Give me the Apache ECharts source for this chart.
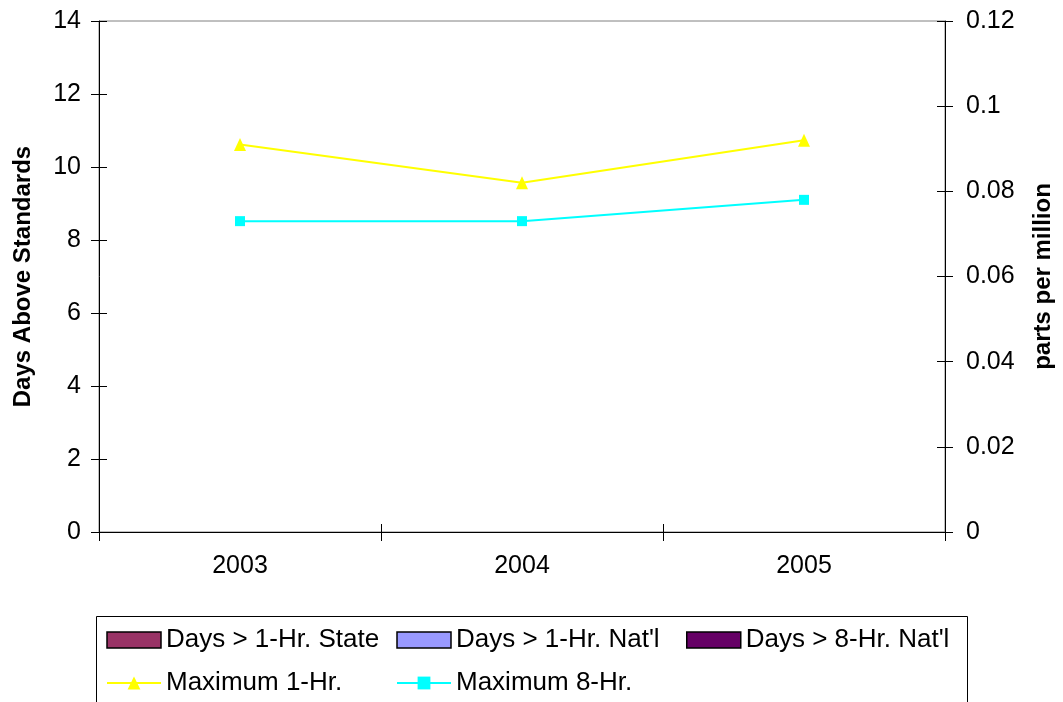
<!DOCTYPE html>
<html>
<head>
<meta charset="utf-8">
<style>
  html, body { margin: 0; padding: 0; background: #fff; }
  #chart { width: 1063px; height: 702px; }
</style>
<script src="https://cdn.jsdelivr.net/npm/echarts@6/dist/echarts.min.js"></script>
</head>
<body>
<div id="chart"></div>
<script>
// Ozone summary: exceedance days (bars) and annual maxima in ppm (lines)
const years = ['2003', '2004', '2005'];

const daysState1Hr = [0, 0, 0];
const daysNatl1Hr = [0, 0, 0];
const daysNatl8Hr = [0, 0, 0];

const max1Hr = [0.091, 0.082, 0.092];
const max8Hr = [0.073, 0.073, 0.078];

const FONT = 'Liberation Sans, Arial, sans-serif';
const tickStyle = { fontFamily: FONT, fontSize: 25, color: '#000' };
const axisLineStyle = { lineStyle: { color: '#000', width: 1 } };

const chart = echarts.init(document.getElementById('chart'), null, { renderer: 'canvas' });

// Second copy of an axis that only draws the inward half of each tick,
// so the ticks cross the axis line
function innerTicks(base) {
  return Object.assign({}, base, {
    name: '',
    axisLabel: { show: false },
    axisLine: { show: false },
    axisTick: { show: true, inside: true, length: 8, lineStyle: { color: '#000' } },
    splitLine: { show: false }
  });
}

const titleStyle = { fontFamily: FONT, fontSize: 24, fontWeight: 'bold', color: '#000' };

const leftAxis = {
  type: 'value', position: 'left', min: 0, max: 14, interval: 2,
  name: 'Days Above Standards', nameLocation: 'middle', nameGap: 64, nameRotate: 90,
  nameTextStyle: titleStyle,
  axisLine: Object.assign({ show: true }, axisLineStyle),
  axisTick: { show: true, length: 8, lineStyle: { color: '#000' } },
  axisLabel: Object.assign({ margin: 18 }, tickStyle),
  splitLine: { show: false }
};
const rightAxis = {
  type: 'value', position: 'right', min: 0, max: 0.12, interval: 0.02,
  name: 'parts per million', nameLocation: 'middle', nameGap: 86, nameRotate: 90,
  nameTextStyle: titleStyle,
  axisLine: Object.assign({ show: true }, axisLineStyle),
  axisTick: { show: true, length: 8, lineStyle: { color: '#000' } },
  axisLabel: Object.assign({ margin: 21 }, tickStyle),
  splitLine: { show: false }
};
const bottomAxis = {
  type: 'category', position: 'bottom', data: years, boundaryGap: true,
  axisLine: Object.assign({ show: true }, axisLineStyle),
  axisTick: { show: true, length: 9, lineStyle: { color: '#000' } },
  axisLabel: Object.assign({ margin: 22 }, tickStyle),
  splitLine: { show: false }
};

const legendText = { fontFamily: FONT, fontSize: 26, color: '#000' };
const barIcon = { borderColor: '#000', borderWidth: 1.5 };
function legendColumn(left, items) {
  return {
    orient: 'vertical', left: left, top: 627, itemGap: 17,
    itemWidth: 54, itemHeight: 16, padding: 0,
    textStyle: legendText, data: items, selectedMode: false
  };
}

chart.setOption({
  animation: false,
  backgroundColor: '#fff',
  grid: {
    left: 99, right: 116, top: 21, bottom: 170,
    show: true, borderColor: '#808080', borderWidth: 1, backgroundColor: 'transparent'
  },
  xAxis: [bottomAxis, innerTicks(bottomAxis)],
  yAxis: [leftAxis, rightAxis, innerTicks(leftAxis), innerTicks(rightAxis)],
  legend: [
    legendColumn(106, [
      { name: 'Days > 1-Hr. State', icon: 'rect', itemStyle: barIcon },
      { name: 'Maximum 1-Hr.' }
    ]),
    legendColumn(396, [
      { name: "Days > 1-Hr. Nat'l", icon: 'rect', itemStyle: barIcon },
      { name: 'Maximum 8-Hr.' }
    ]),
    legendColumn(686, [
      { name: "Days > 8-Hr. Nat'l", icon: 'rect', itemStyle: barIcon }
    ])
  ],
  graphic: [{
    type: 'rect', silent: true,
    shape: { x: 96.5, y: 616.5, width: 871, height: 100 },
    style: { fill: 'none', stroke: '#000', lineWidth: 1 }
  }],
  series: [
    { name: 'Days > 1-Hr. State', type: 'bar', yAxisIndex: 0, data: daysState1Hr,
      itemStyle: { color: '#993366' } },
    { name: "Days > 1-Hr. Nat'l", type: 'bar', yAxisIndex: 0, data: daysNatl1Hr,
      itemStyle: { color: '#9999FF' } },
    { name: "Days > 8-Hr. Nat'l", type: 'bar', yAxisIndex: 0, data: daysNatl8Hr,
      itemStyle: { color: '#660066' } },
    { name: 'Maximum 1-Hr.', type: 'line', yAxisIndex: 1, data: max1Hr,
      symbol: 'triangle', symbolSize: [12, 13], showAllSymbol: true,
      lineStyle: { color: '#FFFF00', width: 2 },
      itemStyle: { color: '#FFFF00' } },
    { name: 'Maximum 8-Hr.', type: 'line', yAxisIndex: 1, data: max8Hr,
      symbol: 'rect', symbolSize: 10, showAllSymbol: true,
      lineStyle: { color: '#00FFFF', width: 2 },
      itemStyle: { color: '#00FFFF' } }
  ]
});
</script>
</body>
</html>
